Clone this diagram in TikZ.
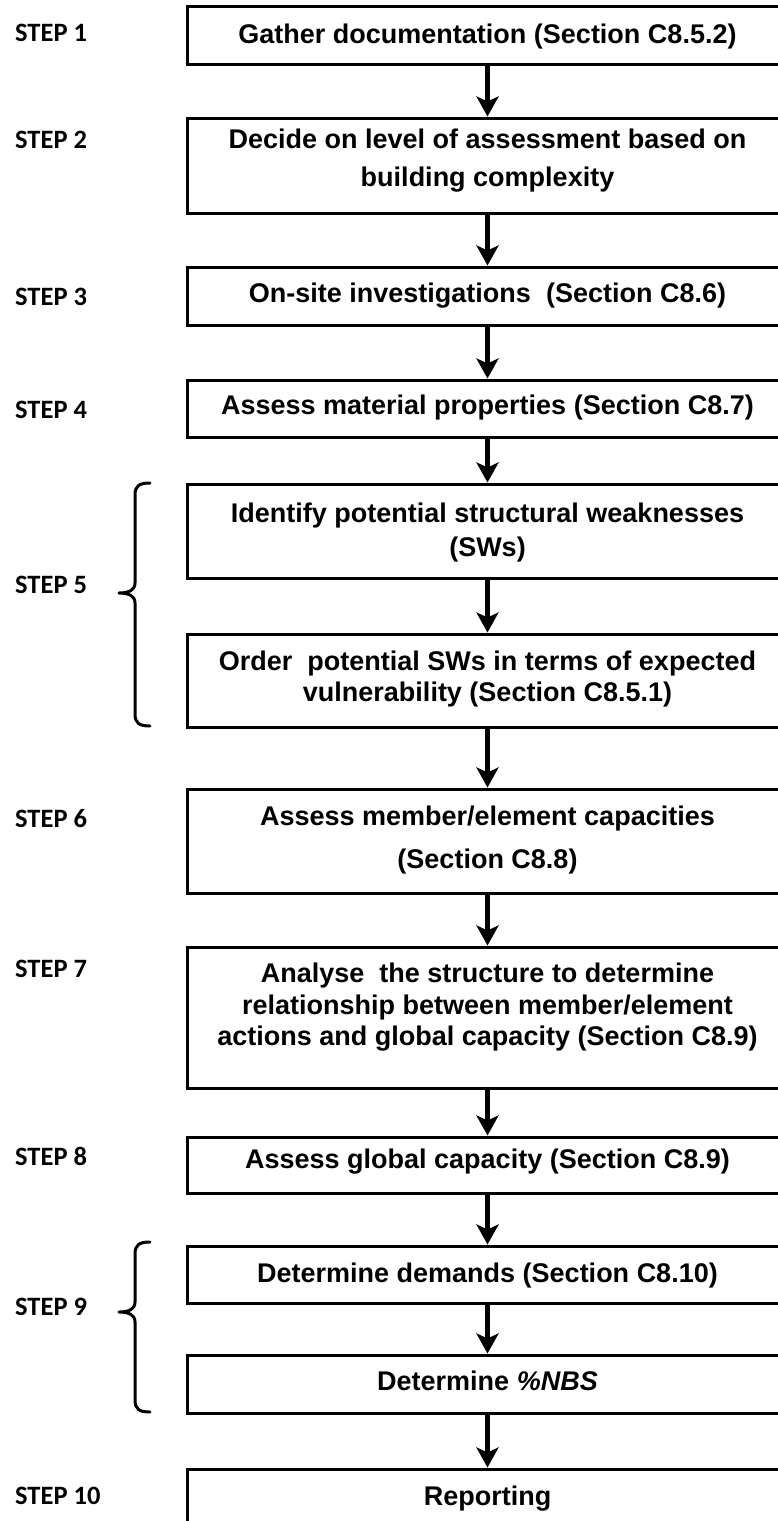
\documentclass[tikz,border=0pt]{standalone}
\usepackage{fontspec}
\usetikzlibrary{arrows.meta}
\newfontfamily\boxfamily{Liberation Sans}
\newfontfamily\stepfamily{Carlito}
\newcommand{\boxfont}{\boxfamily\bfseries\fontsize{27}{32}\selectfont}
\newcommand{\stepfont}{\stepfamily\bfseries\fontsize{26.5}{30}\selectfont}
\tikzset{
  flowbox/.style={draw, line width=3pt, minimum width=601pt, inner sep=0pt},
  flowarr/.style={line width=4.5pt, -{Stealth[length=20pt,width=22pt,inset=5pt]}},
  steplbl/.style={anchor=base west, font=\stepfont, inner sep=0pt},
  btxt/.style={anchor=base, font=\boxfont, inner sep=0pt},
  bracestyle/.style={line width=3pt, line cap=round, line join=round}
}
\newcommand{\curlybrace}[3]{% top, tip, bottom
  \draw[bracestyle] (150,#1) .. controls (139,#1) and (135,#1+3) .. (135,#1+12)
    -- (135,#2-10) .. controls (135,#2-3) and (129,#2) .. (119,#2)
    .. controls (129,#2) and (135,#2+3) .. (135,#2+10)
    -- (135,#3-12) .. controls (135,#3-3) and (139,#3) .. (150,#3);}
\begin{document}
\begin{tikzpicture}[x=1pt,y=-1pt]
\useasboundingbox (0,0) rectangle (778,1521);
\clip (0,0) rectangle (778,1521);
\fill[white] (0,0) rectangle (778,1521);

% boxes
\node[flowbox, minimum height=58pt]  (b1)  at (487.5,35) {};
\node[flowbox, minimum height=95pt]  (b2)  at (487.5,165.5) {};
\node[flowbox, minimum height=58pt]  (b3)  at (487.5,296) {};
\node[flowbox, minimum height=57pt]  (b4)  at (487.5,408.5) {};
\node[flowbox, minimum height=94pt]  (b5a) at (487.5,531) {};
\node[flowbox, minimum height=93pt]  (b5b) at (487.5,680.5) {};
\node[flowbox, minimum height=104pt] (b6)  at (487.5,841) {};
\node[flowbox, minimum height=141pt] (b7)  at (487.5,1017.5) {};
\node[flowbox, minimum height=56pt]  (b8)  at (487.5,1165) {};
\node[flowbox, minimum height=57pt]  (b9a) at (487.5,1274.5) {};
\node[flowbox, minimum height=58pt]  (b9b) at (487.5,1384) {};
\node[flowbox, minimum height=58pt]  (b10) at (487.5,1498) {};

% box texts
\node[btxt] (t1)  at (487.5,43)   {Gather documentation (Section C8.5.2)};
\node[btxt] (t2a) at (487.5,148)  {Decide on level of assessment based on};
\node[btxt] (t2b) at (487.5,186)  {building complexity};
\node[btxt] (t3)  at (487.5,302)  {On-site investigations\ \ (Section C8.6)};
\node[btxt] (t4)  at (487.5,414)  {Assess material properties (Section C8.7)};
\node[btxt] (t5a) at (487.5,522)  {Identify potential structural weaknesses};
\node[btxt] (t5b) at (487.5,556)  {(SWs)};
\node[btxt] (t5c) at (487.5,670)  {Order\ \ potential SWs in terms of expected};
\node[btxt] (t5d) at (487.5,701)  {vulnerability (Section C8.5.1)};
\node[btxt] (t6a) at (487.5,825)  {Assess member/element capacities};
\node[btxt] (t6b) at (487.5,868)  {(Section C8.8)};
\node[btxt] (t7a) at (487.5,982)  {Analyse\ \ the structure to determine};
\node[btxt] (t7b) at (487.5,1014) {relationship between member/element};
\node[btxt] (t7c) at (487.5,1045) {actions and global capacity (Section C8.9)};
\node[btxt] (t8)  at (487.5,1168) {Assess global capacity (Section C8.9)};
\node[btxt] (t9a) at (487.5,1282) {Determine demands (Section C8.10)};
\node[btxt] (t9b) at (487.5,1390) {Determine \textit{\%NBS}};
\node[btxt] (t10) at (487.5,1505) {Reporting};

% step labels
\node[steplbl] (s1)  at (15,41)   {STEP 1};
\node[steplbl] (s2)  at (15,148)  {STEP 2};
\node[steplbl] (s3)  at (15,305)  {STEP 3};
\node[steplbl] (s4)  at (15,418)  {STEP 4};
\node[steplbl] (s5)  at (15,593)  {STEP 5};
\node[steplbl] (s6)  at (15,827)  {STEP 6};
\node[steplbl] (s7)  at (15,977)  {STEP 7};
\node[steplbl] (s8)  at (15,1165) {STEP 8};
\node[steplbl] (s9)  at (15,1315) {STEP 9};
\node[steplbl] (s10) at (15,1504) {STEP 10};

% arrows
\draw[flowarr] (b1.south) -- (b2.north);
\draw[flowarr] (b2.south) -- (b3.north);
\draw[flowarr] (b3.south) -- (b4.north);
\draw[flowarr] (b4.south) -- (b5a.north);
\draw[flowarr] (b5a.south) -- (b5b.north);
\draw[flowarr] (b5b.south) -- (b6.north);
\draw[flowarr] (b6.south) -- (b7.north);
\draw[flowarr] (b7.south) -- (b8.north);
\draw[flowarr] (b8.south) -- (b9a.north);
\draw[flowarr] (b9a.south) -- (b9b.north);
\draw[flowarr] (b9b.south) -- (b10.north);

% braces
\curlybrace{483}{593}{726}
\curlybrace{1242}{1312}{1412}
\end{tikzpicture}
\end{document}
